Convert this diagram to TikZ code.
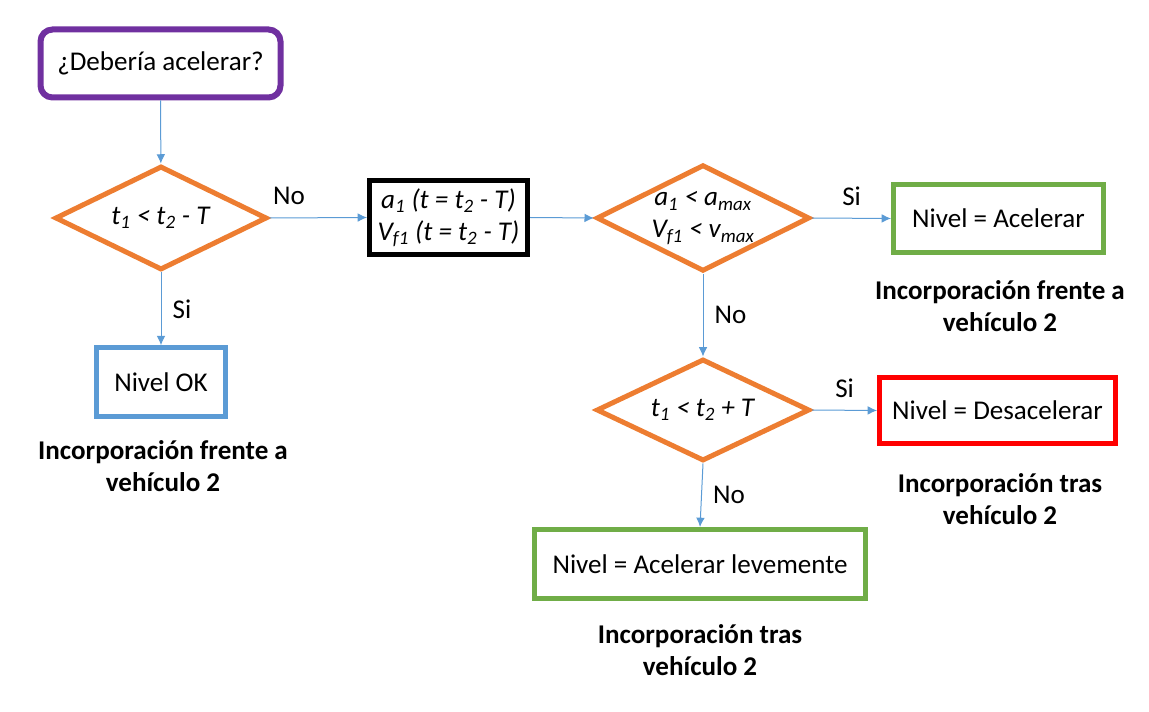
\documentclass[tikz,border=0pt]{standalone}
\usepackage{fontspec}
\setmainfont{Carlito}
\usetikzlibrary{shapes.geometric,arrows.meta}

\definecolor{naranja}{HTML}{ED7D31}
\definecolor{morado}{HTML}{7030A0}
\definecolor{azul}{HTML}{5B9BD5}
\definecolor{verde}{HTML}{70AD47}
\definecolor{rojo}{HTML}{FF0000}

\newcommand{\sbi}[1]{\textsubscript{#1}}

\begin{document}
\begin{tikzpicture}[x=0.75pt,y=-0.75pt,
    font=\fontsize{20.3}{24}\selectfont,
    caja/.style={draw, line width=3.75pt, inner sep=0pt, align=center},
    rombo/.style={diamond, aspect=2, draw=naranja, line width=3.75pt, inner sep=0pt, align=center},
    flujo/.style={azul, line width=0.75pt, -{Latex[length=7pt,width=6.5pt]}},
    etiq/.style={text=black},
    nota/.style={font=\fontsize{20.3}{24}\selectfont\bfseries, align=center}]
    \useasboundingbox (0,0) rectangle (1149,712);

    \node[caja, draw=morado, line width=4.5pt, rounded corners=9pt, minimum width=180pt, minimum height=51pt] (inicio) at (160.5,63.5) {¿Debería acelerar?};
    \node[rombo, minimum width=159pt, minimum height=78pt] (cond1) at (161,218) {\textit{t\sbi{1} < t\sbi{2} - T}};
    \node[caja, draw=azul, line width=3.4pt, minimum width=96.75pt, minimum height=51.75pt] (ok) at (161,382) {Nivel OK};
    \node[caja, draw=black, minimum width=118.5pt, minimum height=55.5pt] (calc) at (448.5,217.5) {\textit{a\sbi{1} (t = t\sbi{2} - T)}\\\textit{V\sbi{f1} (t = t\sbi{2} - T)}};
    \node[rombo, minimum width=160pt, minimum height=80pt] (cond2) at (703,218) {\textit{a\sbi{1} < a\sbi{max}}\\\textit{V\sbi{f1} < v\sbi{max}}};
    \node[caja, draw=verde, minimum width=157.5pt, minimum height=51pt] (acel) at (998.5,218.5) {Nivel = Acelerar};
    \node[rombo, minimum width=160pt, minimum height=76.5pt] (cond3) at (703,410) {\textit{t\sbi{1} < t\sbi{2} + T}};
    \node[caja, draw=rojo, minimum width=177pt, minimum height=49.5pt] (desac) at (997.5,410.5) {Nivel = Desacelerar};
    \node[caja, draw=verde, minimum width=248.25pt, minimum height=51.75pt] (leve) at (700,564) {Nivel = Acelerar levemente};

    % notas
    \node[nota] (nota1) at (163,466) {Incorporación frente a\\vehículo 2};
    \node[nota] (nota2) at (1000,306) {Incorporación frente a\\vehículo 2};
    \node[nota] (nota3) at (1000,499) {Incorporación tras\\vehículo 2};
    \node[nota] (nota4) at (700,650) {Incorporación tras\\vehículo 2};

    \draw[flujo] (inicio) -- (cond1);
    \draw[flujo] (cond1.east) -- (calc.west) node[etiq, pos=0.2, above=6pt]{No};
    \draw[flujo] (cond1.south) -- (ok.north) node[etiq, midway, right=5pt]{Si};
    \draw[flujo] (calc.east) -- (cond2.west);
    \draw[flujo] (cond2.east) -- (acel.west) node[etiq, midway, above=6pt]{Si};
    \draw[flujo] (cond2.south) -- (cond3.north) node[etiq, midway, right=5pt]{No};
    \draw[flujo] (cond3.east) -- (desac.west) node[etiq, midway, above=6pt]{Si};
    \draw[flujo] (cond3.south) -- (leve.north) node[etiq, midway, right=5pt]{No};
\end{tikzpicture}
\end{document}
